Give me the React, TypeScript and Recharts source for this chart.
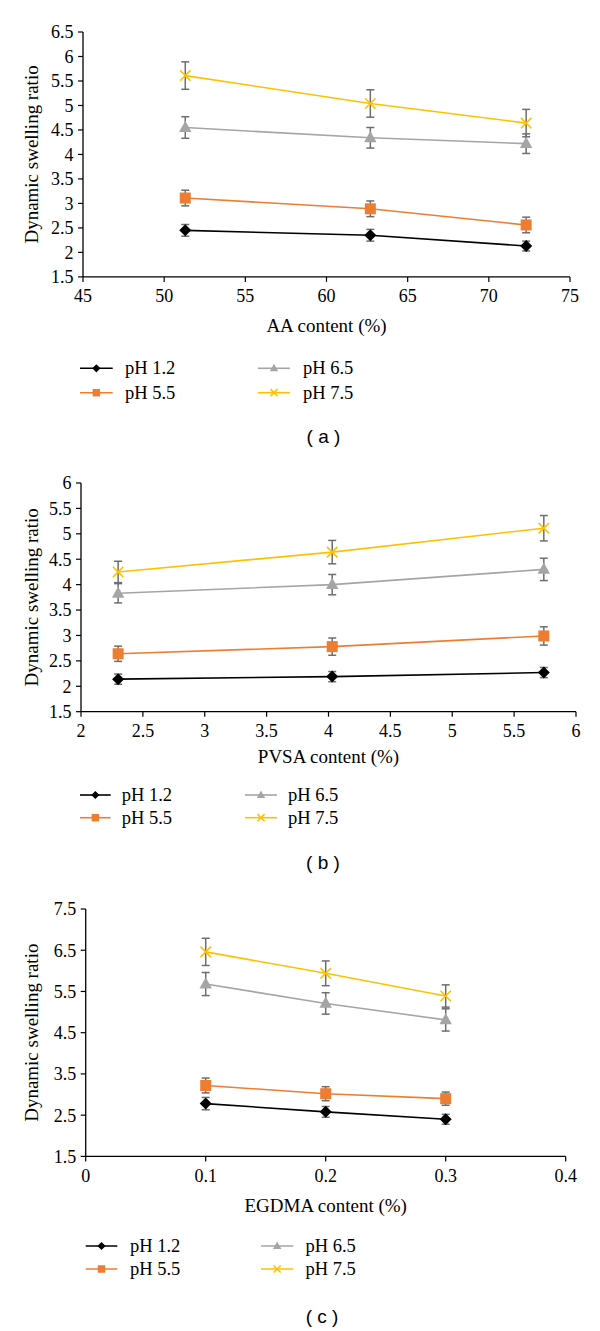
import React from 'react';
import { LineChart, Line, XAxis, YAxis, ErrorBar, Label } from 'recharts';

// ---------- data ----------
const SERIES_NAMES = ['pH 1.2', 'pH 5.5', 'pH 6.5', 'pH 7.5'];
const COLORS = ['#000000', '#ED7D31', '#A5A5A5', '#FFC000'];

// (a) AA content
const aX = [51.3, 62.7, 72.3];
const aPh12 = [2.45, 2.35, 2.13];
const aPh12Err = [0.12, 0.12, 0.1];
const aPh55 = [3.11, 2.89, 2.56];
const aPh55Err = [0.16, 0.16, 0.16];
const aPh65 = [4.55, 4.34, 4.22];
const aPh65Err = [0.22, 0.21, 0.2];
const aPh75 = [5.61, 5.04, 4.64];
const aPh75Err = [0.28, 0.28, 0.28];
const aXTicks = [45, 50, 55, 60, 65, 70, 75];
const aYTicks = [1.5, 2, 2.5, 3, 3.5, 4, 4.5, 5, 5.5, 6, 6.5];

// (b) PVSA content
const bX = [2.3, 4.03, 5.74];
const bPh12 = [2.14, 2.19, 2.27];
const bPh12Err = [0.1, 0.1, 0.1];
const bPh55 = [2.64, 2.78, 2.99];
const bPh55Err = [0.15, 0.17, 0.18];
const bPh65 = [3.83, 4.0, 4.3];
const bPh65Err = [0.19, 0.2, 0.22];
const bPh75 = [4.25, 4.64, 5.11];
const bPh75Err = [0.21, 0.23, 0.25];
const bXTicks = [2, 2.5, 3, 3.5, 4, 4.5, 5, 5.5, 6];
const bYTicks = [1.5, 2, 2.5, 3, 3.5, 4, 4.5, 5, 5.5, 6];

// (c) EGDMA content
const cX = [0.1, 0.2, 0.3];
const cPh12 = [2.78, 2.58, 2.4];
const cPh12Err = [0.15, 0.13, 0.12];
const cPh55 = [3.22, 3.02, 2.9];
const cPh55Err = [0.18, 0.17, 0.16];
const cPh65 = [5.68, 5.21, 4.81];
const cPh65Err = [0.28, 0.26, 0.27];
const cPh75 = [6.46, 5.94, 5.39];
const cPh75Err = [0.33, 0.3, 0.27];
const cXTicks = [0, 0.1, 0.2, 0.3, 0.4];
const cYTicks = [1.5, 2.5, 3.5, 4.5, 5.5, 6.5, 7.5];

const buildRows = (x: number[], vals: number[][], errs: number[][]) =>
  x.map((xv, i) => {
    const r: any = { x: xv };
    vals.forEach((v, k) => {
      r['s' + k] = v[i];
      r['e' + k] = errs[k][i];
    });
    return r;
  });

const aRows = buildRows(aX, [aPh12, aPh55, aPh65, aPh75], [aPh12Err, aPh55Err, aPh65Err, aPh75Err]);
const bRows = buildRows(bX, [bPh12, bPh55, bPh65, bPh75], [bPh12Err, bPh55Err, bPh65Err, bPh75Err]);
const cRows = buildRows(cX, [cPh12, cPh55, cPh65, cPh75], [cPh12Err, cPh55Err, cPh65Err, cPh75Err]);

// ---------- markers ----------
const Marker = ({ kind, cx, cy, s }: { kind: number; cx: number; cy: number; s: number }) => {
  const c = COLORS[kind];
  if (kind === 0) {
    const h = 6 * s;
    return <path d={`M${cx},${cy - h}L${cx + h},${cy}L${cx},${cy + h}L${cx - h},${cy}Z`} fill={c} />;
  }
  if (kind === 1) {
    const h = 5.5 * s;
    return <rect x={cx - h} y={cy - h} width={2 * h} height={2 * h} fill={c} />;
  }
  if (kind === 2) {
    const w = 6.2 * s;
    return (
      <path
        d={`M${cx},${cy - 6.8 * s}L${cx + w},${cy + 4.4 * s}L${cx - w},${cy + 4.4 * s}Z`}
        fill={c}
      />
    );
  }
  const h = 5.2 * s;
  return (
    <path
      d={`M${cx - h},${cy - h}L${cx + h},${cy + h}M${cx - h},${cy + h}L${cx + h},${cy - h}`}
      stroke={c}
      strokeWidth={1.6}
      fill="none"
    />
  );
};

const makeDot = (kind: number) => (props: any) => {
  const { cx, cy, index } = props;
  if (cx == null || cy == null) return <g key={`n-${kind}-${index}`} />;
  return (
    <g key={`m-${kind}-${index}`}>
      <Marker kind={kind} cx={cx} cy={cy} s={1} />
    </g>
  );
};

const SERIF = '"Liberation Serif", "Times New Roman", serif';

const XTick = (props: any) => {
  const { x, y, payload } = props;
  return (
    <text x={x} y={y} dy="0.71em" textAnchor="middle" fill="#000" fontSize={18} fontFamily={SERIF}>
      {String(payload.value)}
    </text>
  );
};

const YTick = (props: any) => {
  const { x, y, payload } = props;
  return (
    <text x={x} y={y} dy="0.355em" textAnchor="end" fill="#000" fontSize={18} fontFamily={SERIF}>
      {String(payload.value)}
    </text>
  );
};

// ---------- panel config ----------
type Panel = {
  rows: any[];
  xTicks: number[];
  yTicks: number[];
  xLabel: string;
  plotTop: number;
  plotBottom: number;
  plotLeft: number;
  plotRight: number;
  xLabelDy: number;
  legendRows: number[];
  col1: number[];
  col2: number[];
  caption: string;
  captionX: number;
  captionY: number;
};

const PANELS: Panel[] = [
  {
    rows: aRows, xTicks: aXTicks, yTicks: aYTicks, xLabel: 'AA content (%)',
    plotTop: 32.4, plotBottom: 277.3, plotLeft: 83, plotRight: 570, xLabelDy: 55,
    legendRows: [368.3, 392.7], col1: [80, 112.7, 125], col2: [258, 290, 303],
    caption: '( a )', captionX: 323.5, captionY: 436,
  },
  {
    rows: bRows, xTicks: bXTicks, yTicks: bYTicks, xLabel: 'PVSA content (%)',
    plotTop: 483.3, plotBottom: 712, plotLeft: 81, plotRight: 576, xLabelDy: 51,
    legendRows: [795, 817.7], col1: [80, 110.7, 121.7], col2: [245, 277, 288],
    caption: '( b )', captionX: 323, captionY: 862,
  },
  {
    rows: cRows, xTicks: cXTicks, yTicks: cYTicks, xLabel: 'EGDMA content (%)',
    plotTop: 909.3, plotBottom: 1156.7, plotLeft: 85.7, plotRight: 565.7, xLabelDy: 55.5,
    legendRows: [1246, 1269], col1: [85.7, 117.3, 130], col2: [261, 293.3, 305.5],
    caption: '( c )', captionX: 322, captionY: 1316.7,
  },
];

const X_AXIS_H = 65;
const TOP_PAD = 20;

const ChartPanel = ({ p }: { p: Panel }) => {
  const plotH = p.plotBottom - p.plotTop;
  const height = TOP_PAD + plotH + X_AXIS_H + 4;
  const top = p.plotTop - TOP_PAD;
  return (
    <div style={{ position: 'absolute', left: 0, top }}>
      <LineChart
        width={600}
        height={height}
        data={p.rows}
        margin={{ top: TOP_PAD, right: 600 - p.plotRight, bottom: 4, left: 0 }}
      >
        <XAxis
          dataKey="x"
          type="number"
          domain={[p.xTicks[0], p.xTicks[p.xTicks.length - 1]]}
          ticks={p.xTicks}
          interval={0}
          height={X_AXIS_H}
          tick={<XTick />}
          tickSize={5}
          tickMargin={7.5}
          axisLine={{ stroke: '#000', strokeWidth: 1.3 }}
          tickLine={{ stroke: '#000', strokeWidth: 1.2 }}
        >
          <Label
            value={p.xLabel}
            position="insideBottom"
            offset={X_AXIS_H - p.xLabelDy}
            style={{ fill: '#000', fontSize: 19, fontFamily: SERIF }}
          />
        </XAxis>
        <YAxis
          type="number"
          width={p.plotLeft}
          domain={[p.yTicks[0], p.yTicks[p.yTicks.length - 1]]}
          ticks={p.yTicks}
          interval={0}
          tick={<YTick />}
          tickSize={5}
          tickMargin={4.5}
          axisLine={{ stroke: '#000', strokeWidth: 1.3 }}
          tickLine={{ stroke: '#000', strokeWidth: 1.2 }}
        >
          <Label
            value="Dynamic swelling ratio"
            position="insideLeft"
            angle={-90}
            offset={31}
            style={{ fill: '#000', fontSize: 19, fontFamily: SERIF, textAnchor: 'middle' }}
          />
        </YAxis>
        {[0, 1, 2, 3].map((k) => (
          <Line
            key={k}
            type="linear"
            dataKey={'s' + k}
            name={SERIES_NAMES[k]}
            stroke={COLORS[k]}
            strokeWidth={1.6}
            dot={makeDot(k)}
            activeDot={false}
            isAnimationActive={false}
          >
            <ErrorBar
              dataKey={'e' + k}
              direction="y"
              width={4}
              stroke="#6E6E6E"
              strokeWidth={1.5}
              isAnimationActive={false}
            />
          </Line>
        ))}
      </LineChart>
    </div>
  );
};

const Overlay = () => (
  <svg
    width={600}
    height={1331}
    style={{ position: 'absolute', left: 0, top: 0, pointerEvents: 'none' }}
  >
    {PANELS.map((p, pi) => {
      const items = [
        { k: 0, col: p.col1, y: p.legendRows[0] },
        { k: 1, col: p.col1, y: p.legendRows[1] },
        { k: 2, col: p.col2, y: p.legendRows[0] },
        { k: 3, col: p.col2, y: p.legendRows[1] },
      ];
      return (
        <g key={pi}>
          {items.map((it) => {
            const [x0, x1, tx] = it.col;
            const mx = (x0 + x1) / 2;
            return (
              <g key={it.k}>
                <line x1={x0} x2={x1} y1={it.y} y2={it.y} stroke={COLORS[it.k]} strokeWidth={1.6} />
                <Marker kind={it.k} cx={mx} cy={it.y} s={0.68} />
                <text x={tx} y={it.y + 6} fontSize={18.5} fontFamily={SERIF} fill="#000">
                  {SERIES_NAMES[it.k]}
                </text>
              </g>
            );
          })}
          <text
            x={p.captionX}
            y={p.captionY}
            textAnchor="middle"
            dominantBaseline="central"
            fontSize={19}
            fontFamily='"Liberation Sans", Arial, sans-serif'
            fill="#000"
          >
            {p.caption}
          </text>
        </g>
      );
    })}
  </svg>
);

export default function App() {
  return (
    <div style={{ position: 'absolute', left: 0, top: 0, width: 600, height: 1331, background: '#fff' }}>
      {PANELS.map((p, i) => (
        <ChartPanel key={i} p={p} />
      ))}
      <Overlay />
    </div>
  );
}
